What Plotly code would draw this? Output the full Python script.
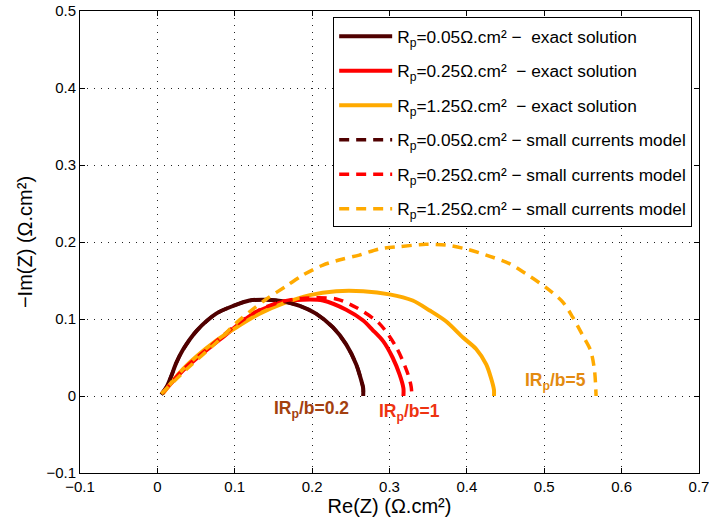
import plotly.graph_objects as go

# ---- data ----
rp005_exact_x = [0.005, 0.012, 0.018, 0.024, 0.033, 0.051, 0.076, 0.098, 0.119, 0.141, 0.162, 0.184, 0.205, 0.227, 0.244, 0.257, 0.263, 0.266, 0.266]
rp005_exact_y = [0.002, 0.012, 0.026, 0.042, 0.060, 0.085, 0.107, 0.117, 0.124, 0.125, 0.123, 0.117, 0.107, 0.089, 0.067, 0.041, 0.022, 0.010, 0.0]

rp025_exact_x = [0.007, 0.033, 0.063, 0.089, 0.111, 0.132, 0.162, 0.188, 0.214, 0.244, 0.266, 0.278, 0.292, 0.304, 0.313, 0.318, 0.318]
rp025_exact_y = [0.004, 0.033, 0.059, 0.080, 0.098, 0.111, 0.122, 0.125, 0.124, 0.112, 0.098, 0.086, 0.071, 0.050, 0.028, 0.010, 0.0]

rp125_exact_x = [0.007, 0.033, 0.076, 0.102, 0.132, 0.162, 0.197, 0.231, 0.266, 0.300, 0.330, 0.352, 0.373, 0.395, 0.412, 0.425, 0.431, 0.435, 0.435]
rp125_exact_y = [0.003, 0.035, 0.072, 0.089, 0.107, 0.120, 0.131, 0.136, 0.136, 0.132, 0.124, 0.111, 0.097, 0.076, 0.061, 0.041, 0.024, 0.008, 0.0]

rp005_small_x = [0.005, 0.012, 0.018, 0.024, 0.033, 0.051, 0.076, 0.098, 0.119, 0.141, 0.162, 0.184, 0.205, 0.227, 0.244, 0.257, 0.263, 0.266, 0.266]
rp005_small_y = [0.002, 0.012, 0.026, 0.042, 0.060, 0.085, 0.107, 0.117, 0.124, 0.125, 0.123, 0.117, 0.107, 0.089, 0.067, 0.041, 0.022, 0.010, 0.0]

rp025_small_x = [0.007, 0.033, 0.063, 0.089, 0.111, 0.132, 0.162, 0.190, 0.231, 0.257, 0.287, 0.309, 0.324, 0.328, 0.329]
rp025_small_y = [0.004, 0.034, 0.060, 0.082, 0.099, 0.112, 0.123, 0.127, 0.126, 0.115, 0.094, 0.063, 0.028, 0.012, 0.0]

rp125_small_x = [0.005, 0.038, 0.081, 0.102, 0.120, 0.141, 0.167, 0.188, 0.214, 0.240, 0.261, 0.287, 0.313, 0.347, 0.373, 0.399, 0.425, 0.455, 0.476, 0.502, 0.524, 0.537, 0.549, 0.560, 0.565, 0.567]
rp125_small_y = [0.003, 0.035, 0.074, 0.095, 0.110, 0.126, 0.143, 0.157, 0.170, 0.178, 0.183, 0.191, 0.194, 0.197, 0.196, 0.191, 0.183, 0.172, 0.159, 0.141, 0.122, 0.102, 0.080, 0.059, 0.033, 0.0]

legend_names = [
    "R<sub>p</sub>=0.05Ω.cm² −\u00a0 exact solution",
    "R<sub>p</sub>=0.25Ω.cm²\u00a0 − exact solution",
    "R<sub>p</sub>=1.25Ω.cm²\u00a0 − exact solution",
    "R<sub>p</sub>=0.05Ω.cm² − small currents model",
    "R<sub>p</sub>=0.25Ω.cm² − small currents model",
    "R<sub>p</sub>=1.25Ω.cm² − small currents model",
]

label_texts = ["IR<sub>p</sub>/b=0.2", "IR<sub>p</sub>/b=1", "IR<sub>p</sub>/b=5"]
label_x = [0.148, 0.284, 0.472]
label_y = [-0.0005, -0.004, 0.036]

x_ticks = [-0.1, 0, 0.1, 0.2, 0.3, 0.4, 0.5, 0.6, 0.7]
y_ticks = [-0.1, 0, 0.1, 0.2, 0.3, 0.4, 0.5]

# ---- styles ----
DARK = "#500000"
RED = "#FF0000"
ORANGE = "#FFAA00"
label_colors = ["#A3400F", "#EE3311", "#E38A10"]
FONT = "Liberation Sans, Arial, Helvetica, sans-serif"

series = [
    (rp005_exact_x, rp005_exact_y, DARK, "solid"),
    (rp025_exact_x, rp025_exact_y, RED, "solid"),
    (rp125_exact_x, rp125_exact_y, ORANGE, "solid"),
    (rp005_small_x, rp005_small_y, DARK, "10px,7px"),
    (rp025_small_x, rp025_small_y, RED, "10px,7px"),
    (rp125_small_x, rp125_small_y, ORANGE, "10px,7px"),
]

fig = go.Figure()
for i, (xs, ys, col, dash) in enumerate(series):
    fig.add_trace(go.Scatter(
        x=xs, y=ys, mode="lines", name=legend_names[i],
        legendgroup=f"g{i}",
        line=dict(color=col, width=4 if dash == "solid" else 3.5, dash=dash, shape="spline", smoothing=0.8),
    ))

for t, x, y, c in zip(label_texts, label_x, label_y, label_colors):
    fig.add_annotation(x=x, y=y, xref="x", yref="y", text=f"<b>{t}</b>", showarrow=False,
                       xanchor="left", yanchor="top", font=dict(size=17.5, color=c, family=FONT))

axis_common = dict(
    showline=True, linecolor="black", linewidth=1, mirror="allticks",
    ticks="inside", ticklen=5, tickcolor="black", automargin=False,
    ticklabeloverflow="allow",
    showgrid=True, gridcolor="#222222", gridwidth=1, griddash="1px,6px",
    zeroline=False, tickfont=dict(size=15, color="black", family=FONT),
)

fig.update_xaxes(range=[-0.1, 0.70001], tickvals=x_ticks,
                 title=dict(text="Re(Z) (Ω.cm²)", font=dict(size=20, color="black", family=FONT), standoff=4),
                 **axis_common)
fig.update_yaxes(range=[-0.1, 0.50001], tickvals=y_ticks,
                 title=dict(text="−Im(Z) (Ω.cm²)", font=dict(size=20, color="black", family=FONT), standoff=8),
                 **axis_common)

fig.update_layout(
    width=709, height=531,
    margin=dict(l=80, r=10, t=11, b=58, autoexpand=False),
    paper_bgcolor="white", plot_bgcolor="white",
    font=dict(family=FONT, color="black"),
    legend=dict(x=0.409, y=0.986, xanchor="left", yanchor="top",
                bordercolor="black", borderwidth=1, bgcolor="white",
                font=dict(size=17.3, color="black", family=FONT),
                traceorder="grouped", tracegroupgap=9, itemwidth=53),
    showlegend=True,
)

# remove the default page margin so the figure fills the window exactly
fig.write_html("out.html", config={"displayModeBar": False},
               post_script="document.body.style.margin='0px';")
